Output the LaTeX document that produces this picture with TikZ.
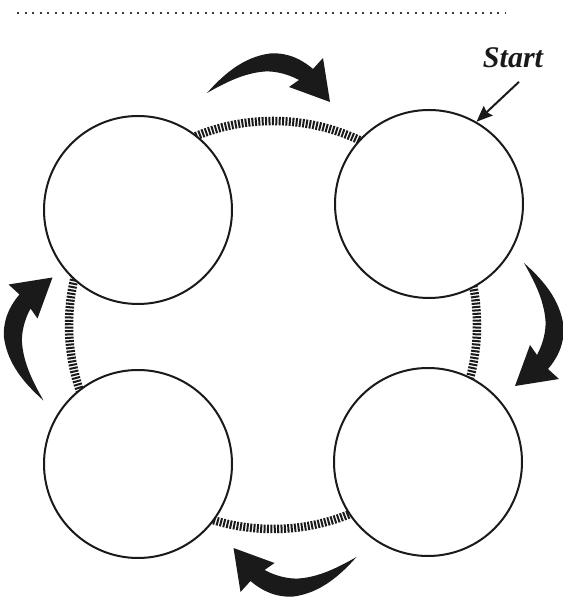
\documentclass[tikz,border=0pt]{standalone}
\usepackage{fontspec}
\newfontfamily\startfont{Liberation Serif}
\usetikzlibrary{arrows.meta}
\definecolor{ink}{HTML}{1A1A1A}
\definecolor{dots}{HTML}{3A3A3A}

\tikzset{
  stage/.style={circle,draw=ink,line width=2pt,fill=white,
                minimum size=188pt,inner sep=0pt},
  swoop/.pic={
    \fill[ink] (-61,4) .. controls (-45,22) and (-25,40) .. (2,43.5)
      .. controls (22,45) and (37,35) .. (45,28) -- (55,39) -- (62,-5)
      -- (21,10) -- (31,17) .. controls (18,24) and (5,26) .. (-3,25.5)
      .. controls (-25,24) and (-45,13) .. cycle;
  }
}

\begin{document}
\begin{tikzpicture}[x=1pt,y=1pt,text=ink,>=Stealth]
  \useasboundingbox (0,0) rectangle (562,601);
  \draw[dots,line width=2pt,dash pattern=on 2pt off 5.5pt]
    (17,588) -- (506,588);

  % hatched ring behind the four circles
  \draw[ink,line width=8.5pt,dash pattern=on 2pt off 1.4pt]
    (273,276) circle[radius=204];

  \node[stage] (tl) at (138,391) {};
  \node[stage] (tr) at (429,397) {};
  \node[stage] (bl) at (138,137) {};
  \node[stage] (br) at (428,139) {};

  \node[font=\startfont\fontsize{30}{32}\selectfont\bfseries\itshape,
        anchor=base] (start) at (513,533) {Start};
  \draw[ink,line width=2pt,-{Stealth[length=16pt,width=13pt,inset=2pt]}]
    ([shift={(6pt,-10pt)}]start.south) -- (tr.60);

  % clockwise arrows
  \pic at (268,504) {swoop};
  \pic[rotate=-90] at (520,277) {swoop};
  \pic[rotate=180] at (295.5,48) {swoop};
  \pic[rotate=90] at (47.5,261.5) {swoop};
\end{tikzpicture}
\end{document}
